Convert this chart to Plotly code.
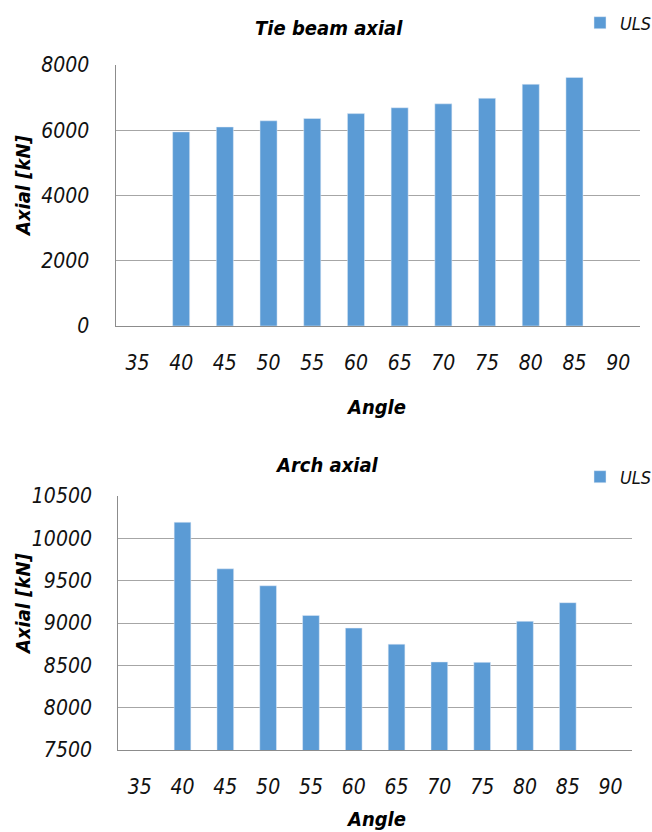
import plotly.graph_objects as go

# Data: axial force (kN) per member angle, ULS combination
angles = ["35", "40", "45", "50", "55", "60", "65", "70", "75", "80", "85", "90"]
tie_beam_uls = [None, 5950, 6100, 6290, 6360, 6510, 6690, 6810, 6980, 7410, 7620, None]
arch_uls = [None, 10190, 9640, 9440, 9090, 8940, 8750, 8540, 8535, 9020, 9240, None]
tie_ticks = [0, 2000, 4000, 6000, 8000]
arch_ticks = [7500, 8000, 8500, 9000, 9500, 10000, 10500]

W, H = 652, 832
FONT = "DejaVu Sans Condensed, Liberation Sans Narrow, sans-serif"
BAR = "#5b9bd5"
GRID = "#a6a6a6"
AXIS = "#8c8c8c"


def px_x(x):
    return x / W


def px_y(y):
    return 1 - y / H


fig = go.Figure()

fig.add_trace(go.Bar(
    x=angles, y=tie_beam_uls, name="ULS", marker_color=BAR,
    xaxis="x", yaxis="y", legend="legend",
))
fig.add_trace(go.Bar(
    x=angles, y=arch_uls, name="ULS", marker_color=BAR,
    xaxis="x2", yaxis="y2", legend="legend2",
))

tickfont = dict(family=FONT, size=21, color="#111111", style="italic")
legendfont = dict(family=FONT, size=18, color="#111111", style="italic")
titlefont = dict(family=FONT, size=20, color="#000000", style="italic", weight="bold")

xcommon = dict(
    type="category", categoryorder="array", categoryarray=angles,
    showgrid=False, zeroline=False, showline=True, linecolor=AXIS, linewidth=1.3,
    ticks="", tickfont=tickfont, ticklabelstandoff=18, fixedrange=True,
    automargin=False,
)
ycommon = dict(
    showgrid=True, gridcolor=GRID, gridwidth=1.3, zeroline=False,
    showline=True, linecolor=AXIS, linewidth=1.3, tickformat="d",
    ticks="", tickfont=tickfont, ticklabelstandoff=21, fixedrange=True,
    automargin=False,
)

fig.update_layout(
    width=W, height=H,
    margin=dict(l=0, r=0, t=0, b=0, autoexpand=False),
    paper_bgcolor="white", plot_bgcolor="white",
    bargap=0.61,
    xaxis=dict(domain=[px_x(115.6), px_x(640)], anchor="y", **xcommon),
    yaxis=dict(domain=[px_y(326), px_y(65)], anchor="x", range=[0, 8000],
               tickvals=tie_ticks, **ycommon),
    xaxis2=dict(domain=[px_x(118.3), px_x(632)], anchor="y2", **xcommon),
    yaxis2=dict(domain=[px_y(750), px_y(496)], anchor="x2", range=[7500, 10500],
                tickvals=arch_ticks, **ycommon),
    legend=dict(x=px_x(580), y=px_y(23), xanchor="left", yanchor="middle",
                bgcolor="rgba(0,0,0,0)", font=legendfont, itemclick=False),
    legend2=dict(x=px_x(580), y=px_y(477), xanchor="left", yanchor="middle",
                 bgcolor="rgba(0,0,0,0)", font=legendfont, itemclick=False),
    showlegend=True,
)

annotations = [
    # chart titles
    dict(text="Tie beam axial", x=px_x(329), y=px_y(28)),
    dict(text="Arch axial", x=px_x(327), y=px_y(465)),
    # x-axis titles
    dict(text="Angle", x=px_x(376), y=px_y(407)),
    dict(text="Angle", x=px_x(376), y=px_y(819)),
]
for a in annotations:
    fig.add_annotation(xref="paper", yref="paper", showarrow=False,
                       xanchor="center", yanchor="middle", font=titlefont, **a)

# y-axis titles (rotated)
for yc in (186, 604):
    fig.add_annotation(text="Axial [kN]", xref="paper", yref="paper",
                       x=px_x(23), y=px_y(yc), showarrow=False, textangle=-90,
                       xanchor="center", yanchor="middle", font=titlefont)

fig.write_html("out.html")
